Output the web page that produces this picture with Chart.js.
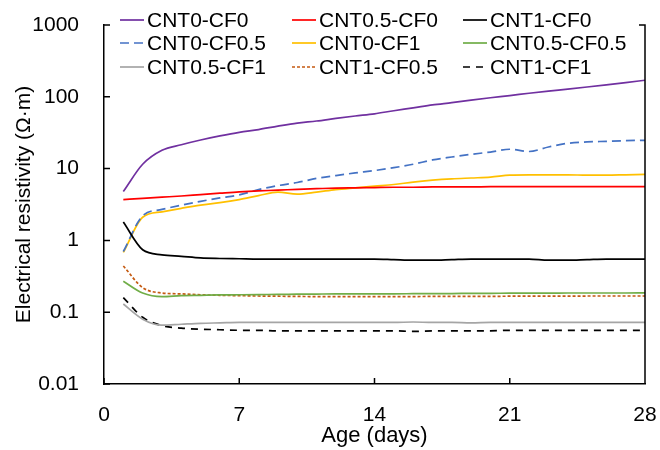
<!DOCTYPE html>
<html>
<head>
<meta charset="utf-8">
<script src="https://cdn.jsdelivr.net/npm/chart.js@4.4.1/dist/chart.umd.min.js"></script>
<style>
    html, body { margin: 0; padding: 0; background: #fff; }
    #wrap { width: 660px; height: 450px; }
</style>
</head>
<body>
<div id="wrap"><canvas id="resistChart" width="660" height="450"></canvas></div>
<script>
// ================= DATA =================
const days = [1, 2, 3, 4, 5, 6, 7, 8, 9, 10, 11, 12, 13, 14, 15, 16, 17, 18, 19, 20, 21, 22, 23, 24, 25, 26, 27, 28];

const cnt0cf0     = [4.8, 11.5, 18, 21.5, 25, 28.5, 32, 35, 39, 43, 46, 50, 54, 58, 64, 70, 77, 83, 90, 97, 104, 112, 120, 128, 137, 147, 158, 170];
const cnt05cf0    = [3.7, 3.85, 4.0, 4.15, 4.35, 4.55, 4.75, 4.9, 5.0, 5.15, 5.25, 5.35, 5.4, 5.45, 5.5, 5.5, 5.55, 5.55, 5.55, 5.6, 5.6, 5.6, 5.6, 5.6, 5.6, 5.6, 5.6, 5.6];
const cnt1cf0     = [1.8, 0.74, 0.63, 0.6, 0.57, 0.56, 0.555, 0.55, 0.55, 0.55, 0.55, 0.55, 0.55, 0.55, 0.54, 0.53, 0.53, 0.54, 0.55, 0.55, 0.55, 0.55, 0.53, 0.53, 0.54, 0.55, 0.55, 0.55];
const cnt0cf05    = [0.70, 2.2, 2.7, 3.1, 3.5, 3.9, 4.3, 5.1, 5.8, 6.4, 7.3, 8.0, 8.7, 9.4, 10.3, 11.5, 13.2, 14.5, 15.8, 17.0, 18.6, 17.3, 20, 22.5, 23.5, 24, 24.5, 24.8];
const cnt0cf1     = [0.68, 2.1, 2.5, 2.8, 3.1, 3.35, 3.7, 4.2, 4.7, 4.4, 4.7, 5.1, 5.4, 5.7, 6.0, 6.5, 6.9, 7.2, 7.4, 7.6, 8.1, 8.2, 8.2, 8.2, 8.1, 8.1, 8.2, 8.3];
const cnt05cf05   = [0.27, 0.185, 0.165, 0.17, 0.172, 0.174, 0.175, 0.176, 0.177, 0.178, 0.179, 0.18, 0.18, 0.18, 0.18, 0.181, 0.182, 0.182, 0.183, 0.183, 0.184, 0.184, 0.184, 0.185, 0.185, 0.185, 0.185, 0.186];
const cnt05cf1    = [0.13, 0.08, 0.066, 0.068, 0.07, 0.071, 0.072, 0.072, 0.072, 0.072, 0.072, 0.072, 0.072, 0.072, 0.072, 0.073, 0.072, 0.072, 0.071, 0.072, 0.072, 0.072, 0.072, 0.072, 0.072, 0.072, 0.072, 0.072];
const cnt1cf05    = [0.44, 0.22, 0.185, 0.18, 0.175, 0.172, 0.17, 0.168, 0.167, 0.166, 0.165, 0.165, 0.165, 0.165, 0.165, 0.165, 0.166, 0.166, 0.166, 0.166, 0.167, 0.167, 0.167, 0.167, 0.168, 0.168, 0.168, 0.168];
const cnt1cf1     = [0.16, 0.085, 0.065, 0.06, 0.058, 0.057, 0.056, 0.056, 0.055, 0.055, 0.055, 0.055, 0.055, 0.055, 0.055, 0.054, 0.055, 0.055, 0.055, 0.055, 0.056, 0.056, 0.056, 0.056, 0.056, 0.056, 0.056, 0.056];

const seriesNames = ["CNT0-CF0", "CNT0.5-CF0", "CNT1-CF0", "CNT0-CF0.5", "CNT0-CF1", "CNT0.5-CF0.5", "CNT0.5-CF1", "CNT1-CF0.5", "CNT1-CF1"];
const seriesValues = [cnt0cf0, cnt05cf0, cnt1cf0, cnt0cf05, cnt0cf1, cnt05cf05, cnt05cf1, cnt1cf05, cnt1cf1];

const xTicks = [0, 7, 14, 21, 28];
const yTicks = [0.01, 0.1, 1, 10, 100, 1000];

// ================= STYLE =================
const styles = [
    { color: "#7030A0", dash: [] },
    { color: "#FF0000", dash: [] },
    { color: "#000000", dash: [] },
    { color: "#4472C4", dash: [9, 5] },
    { color: "#FFC000", dash: [] },
    { color: "#70AD47", dash: [] },
    { color: "#A5A5A5", dash: [] },
    { color: "#C55A11", dash: [3, 2] },
    { color: "#000000", dash: [7, 6] }
];

const FONT = "'Liberation Sans', Arial, sans-serif";

// legend drawn inside the plot, 3 columns x 3 rows
const legendPlugin = {
    id: "gridLegend",
    afterDraw(chart) {
        const ctx = chart.ctx;
        const colX = [120, 292, 463];
        const rowY = [20, 43, 67];
        chart.data.datasets.forEach((ds, i) => {
            const x = colX[i % 3];
            const y = rowY[Math.floor(i / 3)];
            ctx.save();
            ctx.strokeStyle = ds.borderColor;
            ctx.lineWidth = ds.borderWidth;
            ctx.setLineDash(ds.borderDash || []);
            ctx.beginPath();
            ctx.moveTo(x, y);
            ctx.lineTo(x + 24, y);
            ctx.stroke();
            ctx.setLineDash([]);
            ctx.fillStyle = "#000";
            ctx.font = "21px " + FONT;
            ctx.textBaseline = "middle";
            ctx.fillText(ds.label, x + 27, y + 1);
            ctx.restore();
        });
    }
};

// inward ticks + right border
const framePlugin = {
    id: "frame",
    afterDraw(chart) {
        const { ctx, chartArea: a, scales } = chart;
        ctx.save();
        ctx.strokeStyle = "#000";
        ctx.lineWidth = 1.5;
        ctx.beginPath();
        scales.y.ticks.forEach(t => {
            const py = scales.y.getPixelForValue(t.value);
            ctx.moveTo(a.left, py);
            ctx.lineTo(a.left + 6, py);
        });
        scales.x.ticks.forEach(t => {
            const px = scales.x.getPixelForValue(t.value);
            ctx.moveTo(px, a.bottom);
            ctx.lineTo(px, a.bottom - 6);
        });
        ctx.moveTo(a.right, a.bottom);
        ctx.lineTo(a.right, a.top);
        ctx.lineTo(a.right - 6, a.top);
        ctx.stroke();
        ctx.restore();
    }
};

function fmt(v) {
    if (v >= 1) return String(Math.round(v));
    return String(Number(v.toPrecision(1)));
}

// ================= CHART =================
const datasets = seriesNames.map((name, i) => ({
    label: name,
    data: seriesValues[i].map((v, j) => ({ x: days[j], y: v })),
    borderColor: styles[i].color,
    borderDash: styles[i].dash,
    borderWidth: 1.7,
    pointRadius: 0,
    fill: false,
    cubicInterpolationMode: "monotone"
}));

new Chart(document.getElementById("resistChart"), {
    type: "line",
    data: { datasets },
    plugins: [legendPlugin, framePlugin],
    options: {
        responsive: false,
        animation: false,
        layout: { padding: { top: 25, right: 15, left: 0, bottom: 0 } },
        plugins: {
            legend: { display: false },
            tooltip: { enabled: false }
        },
        scales: {
            x: {
                type: "linear",
                min: 0,
                max: 28,
                afterBuildTicks: s => { s.ticks = xTicks.map(v => ({ value: v })); },
                afterFit: s => { s.height = 66; s.paddingLeft = 0; s.paddingRight = 0; },
                grid: { display: false },
                border: { display: true, color: "#000", width: 1.5 },
                ticks: {
                    color: "#000",
                    padding: 11,
                    maxRotation: 0,
                    font: { family: FONT, size: 21 }
                },
                title: {
                    display: true,
                    text: "Age (days)",
                    color: "#000",
                    padding: { top: 0, bottom: 1 },
                    font: { family: FONT, size: 22 }
                }
            },
            y: {
                type: "logarithmic",
                min: 0.01,
                max: 1000,
                afterBuildTicks: s => { s.ticks = yTicks.map(v => ({ value: v })); },
                afterFit: s => { s.width = 104; s.paddingTop = 0; s.paddingBottom = 0; },
                grid: { display: false },
                border: { display: true, color: "#000", width: 1.5 },
                ticks: {
                    color: "#000",
                    padding: 17,
                    callback: v => fmt(v),
                    font: { family: FONT, size: 21 }
                },
                title: {
                    display: true,
                    text: "Electrical resistivity (Ω·m)",
                    color: "#000",
                    padding: { top: 12, bottom: 0 },
                    font: { family: FONT, size: 21 }
                }
            }
        }
    }
});
</script>
</body>
</html>
